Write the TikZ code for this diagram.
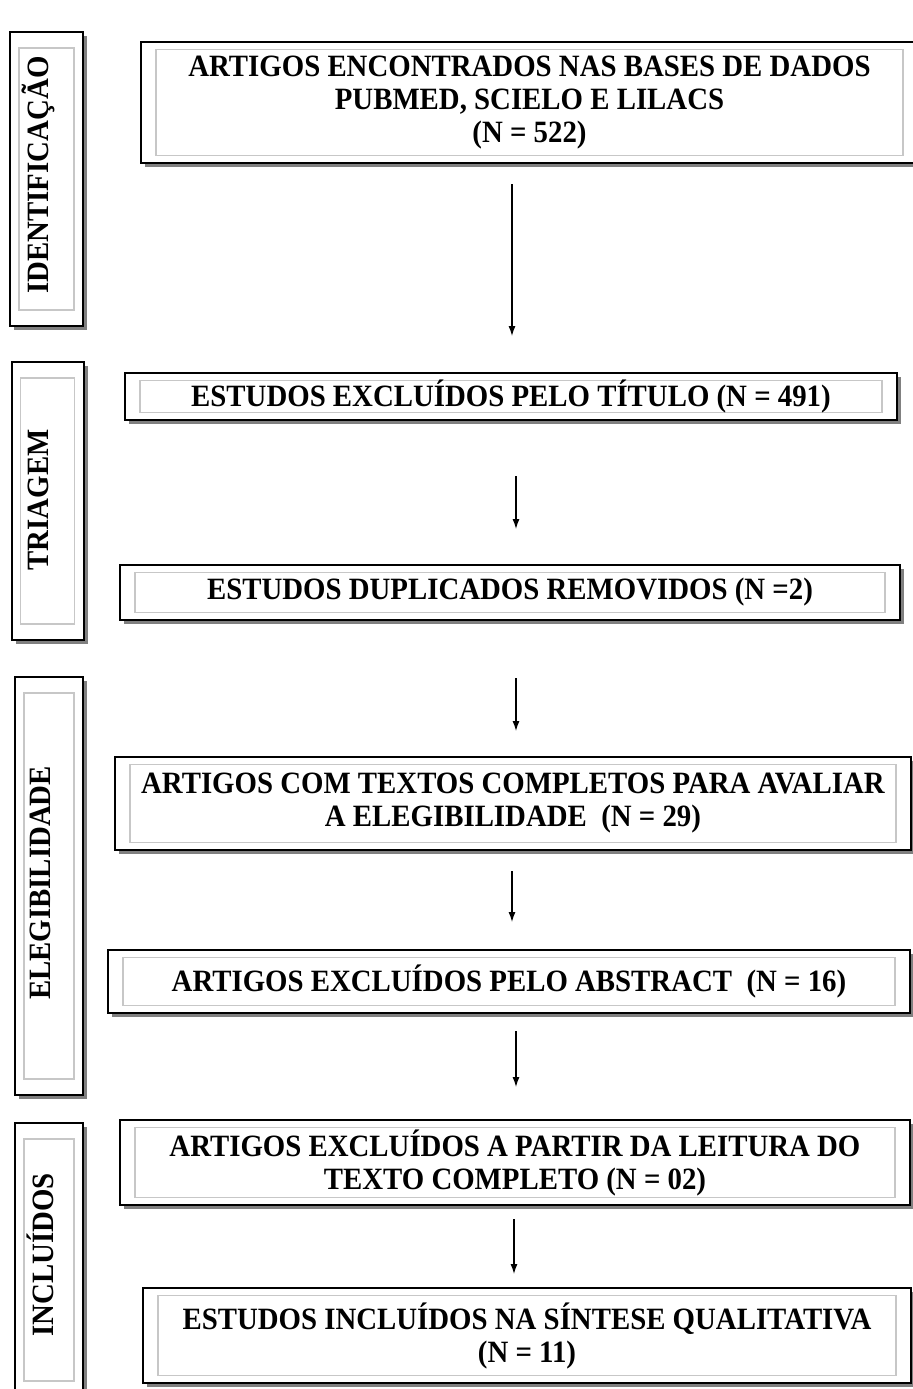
\documentclass[tikz,border=0pt]{standalone}
\usepackage{fontspec}
\setmainfont{Liberation Serif}
\newfontfamily\bxfont{Liberation Serif}[FakeStretch=0.93]
\usetikzlibrary{shadows,arrows.meta}
\begin{document}
\begin{tikzpicture}[x=0.5pt,y=-0.5pt,
  box/.style={draw=black, line width=1pt, fill=white, rectangle, inner sep=0pt, align=center,
    font=\bxfont\fontsize{15.5pt}{16.5pt}\selectfont\bfseries,
    drop shadow={shadow xshift=2pt, shadow yshift=-2pt, fill=black!50, opacity=1},
    path picture={\draw[black!22, line width=0.7pt] ([shift={(7.5pt,-3.75pt)}]path picture bounding box.north west) rectangle ([shift={(-7.5pt,3.75pt)}]path picture bounding box.south east);}},
  sidebox/.style={draw=black, line width=1pt, fill=white, rectangle, inner sep=0pt,
    drop shadow={shadow xshift=2pt, shadow yshift=-2pt, fill=black!50, opacity=1},
    path picture={\draw[black!22, line width=0.7pt] ([shift={(4.5pt,-8pt)}]path picture bounding box.north west) rectangle ([shift={(-4.5pt,8pt)}]path picture bounding box.south east);}},
  sidelabel/.style={rotate=90, inner sep=0pt, font=\bxfont\fontsize{15.5pt}{16.5pt}\selectfont\bfseries},
  arr/.style={line width=0.6pt, -{Latex[length=5pt,width=3.5pt]}}
]
\useasboundingbox (0,0) rectangle (913,1389);

% side boxes
\node[sidebox, minimum width=36.5pt, minimum height=147pt] (s1) at (46.5,179) {};
\node[sidebox, minimum width=36pt, minimum height=139pt] (s2) at (47.5,501) {};
\node[sidebox, minimum width=34pt, minimum height=209pt] (s3) at (49,886) {};
\node[sidebox, minimum width=34pt, minimum height=137pt] (s4) at (49,1260) {};
\node[sidelabel] (l1) at (38,175) {IDENTIFICAÇÃO};
\node[sidelabel] (l2) at (38,500) {TRIAGEM};
\node[sidelabel] (l3) at (40,883) {ELEGIBILIDADE};
\node[sidelabel] (l4) at (40,1255) {INCLUÍDOS};

% main boxes
\node[box, minimum width=388.5pt, minimum height=60.5pt] (b1) at (529.5,102.5)
  {ARTIGOS ENCONTRADOS NAS BASES DE DADOS\\PUBMED, SCIELO E LILACS\\(N = 522)};
\node[box, minimum width=386pt, minimum height=23.5pt] (b2) at (511,396.5)
  {ESTUDOS EXCLUÍDOS PELO TÍTULO (N = 491)};
\node[box, minimum width=390pt, minimum height=27.5pt] (b3) at (510,592.5)
  {ESTUDOS DUPLICADOS REMOVIDOS (N =2)};
\node[box, minimum width=398pt, minimum height=46.5pt] (b4) at (513,803.5)
  {ARTIGOS COM TEXTOS COMPLETOS PARA AVALIAR\\A ELEGIBILIDADE~ (N = 29)};
\node[box, minimum width=401pt, minimum height=31.5pt] (b5) at (509,981.5)
  {ARTIGOS EXCLUÍDOS PELO ABSTRACT~ (N = 16)};
\node[box, minimum width=395pt, minimum height=42.5pt] (b6) at (515,1162.5)
  {ARTIGOS EXCLUÍDOS A PARTIR DA LEITURA DO\\TEXTO COMPLETO (N = 02)};
\node[box, minimum width=384pt, minimum height=47.5pt] (b7) at (527,1335.5)
  {ESTUDOS INCLUÍDOS NA SÍNTESE QUALITATIVA\\(N = 11)};

% arrows
\draw[arr, shorten <=10pt, shorten >=18pt] (b1.south -| 512,0) -- (b2.north -| 512,0);
\draw[arr, shorten <=27.5pt, shorten >=17.5pt] (b2.south -| 516,0) -- (b3.north -| 516,0);
\draw[arr, shorten <=28.5pt, shorten >=12.5pt] (b3.south -| 516,0) -- (b4.north -| 516,0);
\draw[arr, shorten <=10pt, shorten >=13.5pt] (b4.south -| 512,0) -- (b5.north -| 512,0);
\draw[arr, shorten <=8.5pt, shorten >=16pt] (b5.south -| 516,0) -- (b6.north -| 516,0);
\draw[arr, shorten <=6.5pt, shorten >=6.5pt] (b6.south -| 514,0) -- (b7.north -| 514,0);
\end{tikzpicture}
\end{document}
